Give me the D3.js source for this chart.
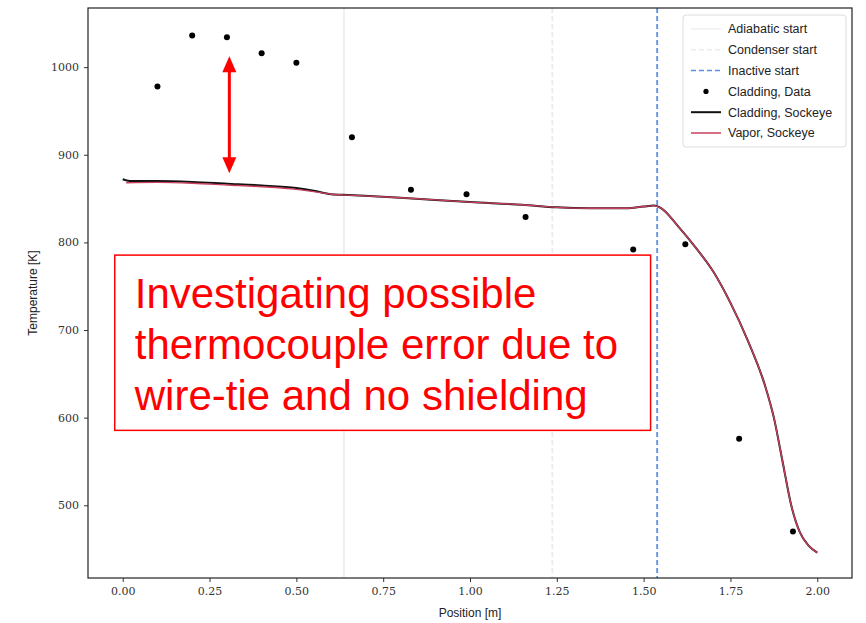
<!DOCTYPE html>
<html>
<head>
<meta charset="utf-8">
<script src="https://cdn.jsdelivr.net/npm/d3@7"></script>
<style>
  body { margin: 0; background: #fff; }
  svg { display: block; }
</style>
</head>
<body>
<script>
// measured thermocouple points
const dataPos  = [0.10, 0.20, 0.30, 0.40, 0.50, 0.66, 0.83, 0.99, 1.16, 1.47, 1.62, 1.775, 1.93]
const dataTemp = [978, 1036, 1034, 1016, 1005, 920, 860, 855, 829, 792, 798, 576, 470]

// Sockeye cladding
const cladPos  = [0, 0.02, 0.1, 0.2, 0.3, 0.4, 0.5, 0.55, 0.6, 0.65, 0.8, 1.0, 1.15, 1.25, 1.35, 1.45, 1.5, 1.53, 1.55, 1.6, 1.65, 1.7, 1.75, 1.8, 1.85, 1.875, 1.9, 1.925, 1.95, 1.975, 2.0]
const cladTemp = [872, 870, 870, 869, 867, 865, 862, 859, 855, 854, 851, 846, 843, 840, 839, 839, 841, 842, 839, 818, 794, 767, 731, 688, 636, 600, 550, 500, 469, 454, 446]

// Sockeye vapor
const vapPos  = [0.01, 0.1, 0.2, 0.3, 0.4, 0.5, 0.55, 0.6, 0.65, 0.8, 1.0, 1.15, 1.25, 1.35, 1.45, 1.5, 1.53, 1.55, 1.6, 1.65, 1.7, 1.75, 1.8, 1.85, 1.875, 1.9, 1.925, 1.95, 1.975, 2.0]
const vapTemp = [868, 868.5, 867.5, 865.5, 863.5, 860.5, 858, 855, 854, 851, 846, 843, 840, 839, 839, 841, 842, 839, 818, 794, 767, 731, 688, 636, 600, 550, 500, 469, 454, 446]

// section boundaries
const vlines = [
  { name: 'Adiabatic start', x: 0.637, color: '#efefef', dash: null },
  { name: 'Condenser start', x: 1.237, color: '#ebebeb', dash: '5,3' },
  { name: 'Inactive start',  x: 1.539, color: '#5b8ee6', dash: '5,3' }
]

const xTicks = [0, 0.25, 0.5, 0.75, 1.0, 1.25, 1.5, 1.75, 2.0]
const yTicks = [500, 600, 700, 800, 900, 1000]

const noteLines = ['Investigating possible', 'thermocouple error due to', 'wire-tie and no shielding']

const width = 866, height = 623
const margin = { top: 8, right: 14, bottom: 45, left: 88 }

const svg = d3.select('body').append('svg')
  .attr('width', width)
  .attr('height', height)

const x = d3.scaleLinear().domain([-0.1, 2.1]).range([margin.left, width - margin.right])
const y = d3.scaleLinear().domain([417, 1067.5]).range([height - margin.bottom, margin.top])

const serif = '"DejaVu Serif", "Liberation Serif", serif'
const sans = '"Liberation Sans", Arial, sans-serif'

// vertical section lines
svg.append('g').selectAll('line')
  .data(vlines)
  .join('line')
  .attr('x1', d => x(d.x)).attr('x2', d => x(d.x))
  .attr('y1', y.range()[1]).attr('y2', y.range()[0])
  .attr('stroke', d => d.color)
  .attr('stroke-width', d => d.dash ? 1.8 : 2)
  .attr('stroke-dasharray', d => d.dash)

const line = d3.line().curve(d3.curveMonotoneX)

svg.append('path')
  .attr('d', line(cladPos.map((p, i) => [x(p), y(cladTemp[i])])))
  .attr('fill', 'none')
  .attr('stroke', '#111')
  .attr('stroke-width', 2)

svg.append('path')
  .attr('d', line(vapPos.map((p, i) => [x(p), y(vapTemp[i])])))
  .attr('fill', 'none')
  .attr('stroke', '#c8405e')
  .attr('stroke-width', 1.4)

svg.append('g').selectAll('circle')
  .data(dataPos)
  .join('circle')
  .attr('cx', d => x(d))
  .attr('cy', (d, i) => y(dataTemp[i]))
  .attr('r', 3)
  .attr('fill', '#000')

// axes
const xAxis = svg.append('g')
  .attr('transform', `translate(0,${height - margin.bottom})`)
  .call(d3.axisBottom(x).tickValues(xTicks).tickFormat(d3.format('.2f')).tickSize(4).tickPadding(5))
const yAxis = svg.append('g')
  .attr('transform', `translate(${margin.left},0)`)
  .call(d3.axisLeft(y).tickValues(yTicks).tickFormat(d3.format('d')).tickSize(4).tickPadding(5))

for (const ax of [xAxis, yAxis]) {
  ax.select('.domain').remove()
  ax.selectAll('.tick line').attr('stroke', '#333')
  ax.selectAll('.tick text')
    .attr('font-family', serif)
    .attr('font-size', 11)
    .attr('fill', '#333')
}

// frame
svg.append('rect')
  .attr('x', margin.left).attr('y', margin.top)
  .attr('width', width - margin.left - margin.right)
  .attr('height', height - margin.top - margin.bottom)
  .attr('fill', 'none')
  .attr('stroke', '#222')
  .attr('stroke-width', 1.2)

svg.append('text')
  .attr('x', x(1.0)).attr('y', 617)
  .attr('text-anchor', 'middle')
  .attr('font-family', sans).attr('font-size', 12).attr('fill', '#222')
  .text('Position [m]')

svg.append('text')
  .attr('transform', `translate(37,${(margin.top + height - margin.bottom) / 2}) rotate(-90)`)
  .attr('text-anchor', 'middle')
  .attr('font-family', sans).attr('font-size', 12).attr('fill', '#222')
  .text('Temperature [K]')

// legend
const lg = svg.append('g').attr('transform', 'translate(683,15)')
lg.append('rect')
  .attr('width', 163).attr('height', 132)
  .attr('rx', 3)
  .attr('fill', '#fff').attr('stroke', '#ddd')

const legendItems = [
  ...vlines.map(d => ({ name: d.name, type: 'line', color: d.color, dash: d.dash, w: 1.5 })),
  { name: 'Cladding, Data', type: 'dot' },
  { name: 'Cladding, Sockeye', type: 'line', color: '#111', dash: null, w: 2 },
  { name: 'Vapor, Sockeye', type: 'line', color: '#c8405e', dash: null, w: 1.5 }
]

const li = lg.selectAll('g.item')
  .data(legendItems)
  .join('g')
  .attr('transform', (d, i) => `translate(0,${14 + i * 20.8})`)

li.filter(d => d.type === 'line').append('line')
  .attr('x1', 8).attr('x2', 38)
  .attr('stroke', d => d.color)
  .attr('stroke-width', d => d.w)
  .attr('stroke-dasharray', d => d.dash)
li.filter(d => d.type === 'dot').append('circle')
  .attr('cx', 23).attr('r', 2.6).attr('fill', '#000')
li.append('text')
  .attr('x', 45).attr('dy', '0.35em')
  .attr('font-family', sans).attr('font-size', 12.5).attr('fill', '#222')
  .text(d => d.name)

// annotation: double arrow and note box
const arrowX = x(0.307), aTop = y(1012.5), aBot = y(879)
svg.append('line')
  .attr('x1', arrowX).attr('x2', arrowX)
  .attr('y1', aTop + 14).attr('y2', aBot - 14)
  .attr('stroke', '#ff0000').attr('stroke-width', 3)
svg.append('path')
  .attr('d', `M${arrowX},${aTop}L${arrowX - 7},${aTop + 16}L${arrowX + 7},${aTop + 16}Z`)
  .attr('fill', '#ff0000')
svg.append('path')
  .attr('d', `M${arrowX},${aBot}L${arrowX - 7},${aBot - 16}L${arrowX + 7},${aBot - 16}Z`)
  .attr('fill', '#ff0000')

const bx0 = x(-0.023), bx1 = x(1.52), by0 = y(785.5), by1 = y(585.5)
svg.append('rect')
  .attr('x', bx0).attr('y', by0)
  .attr('width', bx1 - bx0).attr('height', by1 - by0)
  .attr('fill', '#fff')
  .attr('stroke', '#ff0000').attr('stroke-width', 1.5)

svg.append('g').selectAll('text')
  .data(noteLines)
  .join('text')
  .attr('x', bx0 + 20)
  .attr('y', (d, i) => by0 + 53 + i * 51)
  .attr('font-family', sans).attr('font-size', 42).attr('fill', '#ff0000')
  .text(d => d)
</script>
</body>
</html>
